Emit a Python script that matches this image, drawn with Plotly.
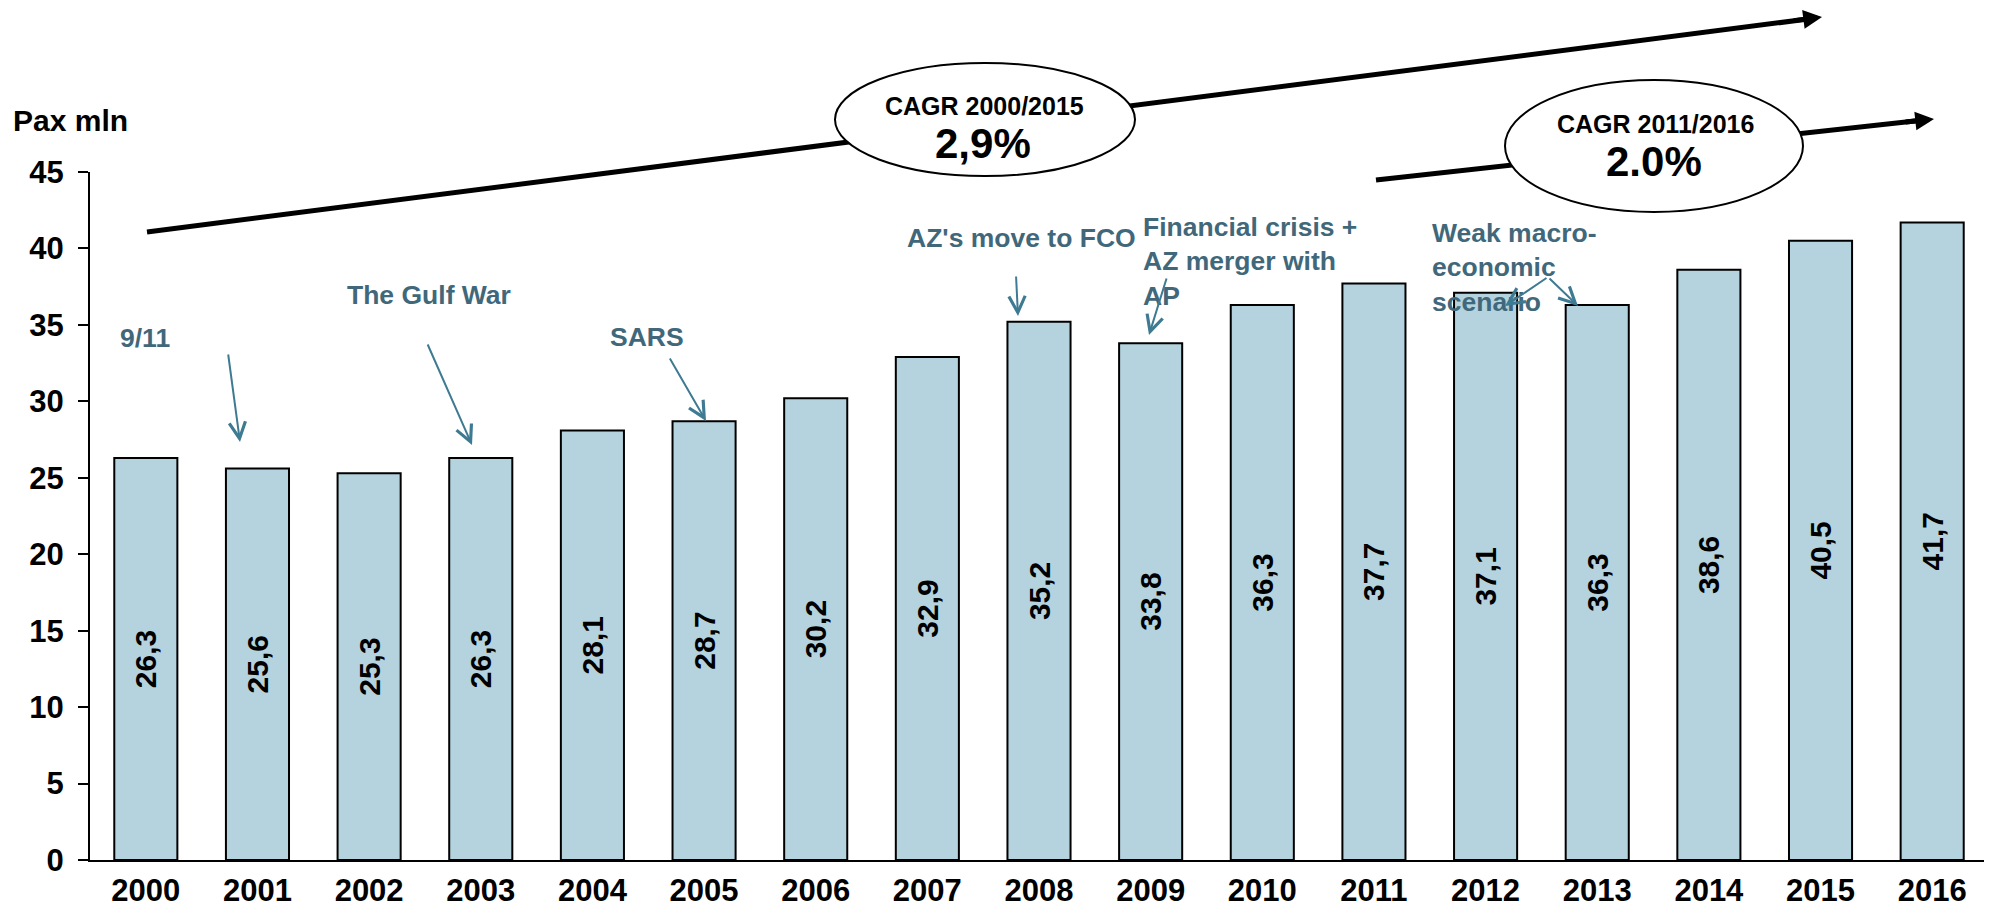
import plotly.graph_objects as go

# ---------------- data ----------------
years = ["2000", "2001", "2002", "2003", "2004", "2005", "2006", "2007", "2008",
         "2009", "2010", "2011", "2012", "2013", "2014", "2015", "2016"]
pax = [26.3, 25.6, 25.3, 26.3, 28.1, 28.7, 30.2, 32.9, 35.2,
       33.8, 36.3, 37.7, 37.1, 36.3, 38.6, 40.5, 41.7]
y_ticks = [0, 5, 10, 15, 20, 25, 30, 35, 40, 45]
y_title = "Pax mln"
cagr_labels = ["CAGR 2000/2015", "CAGR 2011/2016"]
cagr_values = ["2,9%", "2.0%"]
events = ["9/11", "The Gulf War", "SARS", "AZ's move to FCO",
          "Financial crisis +<br>AZ merger with<br>AP", "Weak macro-<br>economic<br>scenario"]

labels = [f"{v:.1f}".replace(".", ",") for v in pax]

# ---------------- layout geometry (page pixels; body has 8px margin) ----------------
OFF = 8
PAGE_W, PAGE_H = 1992, 915
W, H = PAGE_W - OFF, PAGE_H - OFF
PL, PR, PT, PB = 90, 1988, 172, 860          # plot area in page pixels
L, R, T, B = PL - OFF, OFF + W - PR, PT - OFF, OFF + H - PB
PW, PH = PR - PL, PB - PT


def px(x):
    return (x - PL) / PW


def py(y):
    return (PB - y) / PH


FONT = "Arial, Liberation Sans, sans-serif"
TXT = "#41687A"
ARR = "#3E7A92"

fig = go.Figure()
fig.add_trace(go.Bar(
    x=years, y=pax, width=0.565,
    marker=dict(color="#B4D3DE", line=dict(color="black", width=2)),
    text=labels, textposition="inside", textangle=-90,
    insidetextanchor="middle", constraintext="none",
    textfont=dict(family=FONT, size=30, color="black", weight="bold"),
    hoverinfo="skip",
))

shapes = []
annotations = []

# big trend arrows (line + head)
big = [((147, 232), (1812, 18.5), (1822, 17)),
       ((1376, 180), (1924, 120), (1934, 119))]
for (x0, y0), (x1, y1), (hx, hy) in big:
    shapes.append(dict(type="line", xref="paper", yref="paper",
                       x0=px(x0), y0=py(y0), x1=px(x1), y1=py(y1),
                       line=dict(color="black", width=5)))
    dx, dy = x1 - x0, y1 - y0
    n = (dx * dx + dy * dy) ** 0.5
    annotations.append(dict(xref="paper", yref="paper", x=px(hx), y=py(hy),
                            ax=-dx / n * 30, ay=-dy / n * 30, text="",
                            showarrow=True, arrowhead=2, arrowsize=0.75,
                            arrowwidth=5, arrowcolor="black", standoff=0))

# ellipses
ells = [(835, 63, 1135, 176), (1505, 80, 1803, 212)]
for x0, y0, x1, y1 in ells:
    shapes.append(dict(type="circle", xref="paper", yref="paper",
                       x0=px(x0), y0=py(y0), x1=px(x1), y1=py(y1),
                       fillcolor="white", line=dict(color="black", width=2)))

# CAGR texts
cagr_pos = [((984, 106), (983, 143)), ((1655, 124), (1654, 162))]
for (lbl, val), ((lx, ly), (vx, vy)) in zip(zip(cagr_labels, cagr_values), cagr_pos):
    annotations.append(dict(xref="paper", yref="paper", x=px(lx), y=py(ly),
                            text=lbl, showarrow=False, xanchor="center", yanchor="middle",
                            font=dict(family=FONT, size=25, color="black", weight="bold")))
    annotations.append(dict(xref="paper", yref="paper", x=px(vx), y=py(vy),
                            text=val, showarrow=False, xanchor="center", yanchor="middle",
                            font=dict(family=FONT, size=42, color="black", weight="bold")))

# axis title
annotations.append(dict(xref="paper", yref="paper", x=px(11), y=py(121), text=y_title,
                        showarrow=False, xanchor="left", yanchor="middle",
                        font=dict(family=FONT, size=30, color="black", weight="bold")))

# event labels: (x, y, xanchor)
ev_pos = [(145, 338, "center"), (429, 295, "center"), (647, 337, "center"),
          (1021, 238, "center"), (1141, 261, "left"), (1430, 267, "left")]
for t, (x, y, xa) in zip(events, ev_pos):
    annotations.append(dict(xref="paper", yref="paper", x=px(x), y=py(y), text=t,
                            showarrow=False, xanchor=xa, yanchor="middle", align="left",
                            font=dict(family=FONT, size=26.5, color=TXT, weight="bold")))

# event arrows: tail -> head
ev_arrows = [((228, 353), (240, 442)), ((427, 343), (472, 445)),
             ((669, 357), (706, 421)), ((1016, 275), (1018, 316)),
             ((1167, 277), (1149, 335)), ((1548, 277), (1505, 306)),
             ((1548, 277), (1578, 306))]
for (tx, ty), (hx, hy) in ev_arrows:
    annotations.append(dict(xref="paper", yref="paper", x=px(hx), y=py(hy),
                            ax=tx - hx, ay=ty - hy, text="", showarrow=True,
                            arrowhead=5, arrowsize=1.6, arrowwidth=2,
                            arrowcolor=ARR, standoff=0))

fig.update_layout(
    width=W, height=H,
    margin=dict(l=L, r=R, t=T, b=B, pad=0),
    paper_bgcolor="white", plot_bgcolor="white",
    showlegend=False, bargap=0.4,
    shapes=shapes, annotations=annotations,
    font=dict(family=FONT),
    xaxis=dict(type="category", range=[-0.5, 16.5], showline=True, linecolor="black",
               linewidth=2, ticks="", showgrid=False, zeroline=False, automargin=False,
               tickfont=dict(family=FONT, size=31, color="black", weight="bold"),
               ticklabelstandoff=2),
    yaxis=dict(range=[0, 45], tickvals=y_ticks, showline=True, linecolor="black",
               linewidth=2, ticks="outside", ticklen=10, tickwidth=2, tickcolor="black",
               showgrid=False, zeroline=False, automargin=False,
               tickfont=dict(family=FONT, size=31, color="black", weight="bold"),
               ticklabelstandoff=8),
)

fig.write_html("out.html")
